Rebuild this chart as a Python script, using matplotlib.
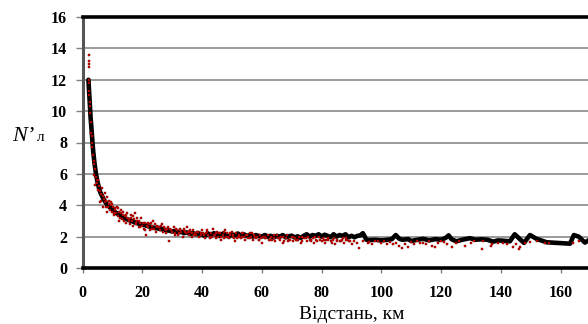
import matplotlib
matplotlib.use("Agg")
import matplotlib.pyplot as plt

# Black line (fitted / model curve)
line_x = [2.0, 2.1, 2.3, 2.5, 2.7, 3.0, 3.3, 3.6, 4.0, 4.5, 5.0, 5.5, 6.0, 6.5, 7.0, 7.5,
          8, 9, 10, 11, 12, 13, 14, 15, 16, 17, 18, 19, 20, 21, 22, 23, 24, 25, 26, 27,
          28, 29, 30, 31, 32, 33, 34, 35, 36, 37, 38, 39,
          40, 41, 42, 43, 44, 45, 46, 47, 48, 49, 50, 51, 52, 53, 54, 55, 56, 57, 58, 59,
          60, 61, 62, 63, 64, 65, 66, 67, 68, 69, 70, 71, 72, 73, 74, 75, 76, 77, 78, 79,
          80, 81, 82, 83, 84, 85, 86, 87, 88, 89, 90, 91, 92, 93, 93.8, 95, 96, 98, 100,
          102, 103.5, 104.8, 106, 107, 109, 110, 112, 114, 116, 118, 120, 121.5, 122.5,
          123.5, 125.1, 127, 129.6, 131.5, 133.5, 135.5, 137.4, 139, 140.7, 143, 144.6,
          147.7, 149.7, 152, 155.3, 159, 163.1, 164.4, 166, 168.1, 170, 175, 180]
line_y = [12.0, 11.6, 11.0, 10.3, 9.6, 8.9, 8.1, 7.4, 6.7, 6.0, 5.5, 5.1, 4.8, 4.6, 4.4, 4.25,
          4.1, 3.9, 3.72, 3.55, 3.42, 3.3, 3.18, 3.1, 3.02, 2.95, 2.87, 2.82, 2.76, 2.72,
          2.66, 2.62, 2.56, 2.53, 2.48, 2.47, 2.4, 2.38, 2.33, 2.36, 2.28, 2.3, 2.22, 2.27,
          2.18, 2.22, 2.15, 2.2,
          2.12, 2.05, 2.2, 2.1, 2.22, 2.08, 2.04, 2.2, 2.1, 2.0, 2.15, 2.08, 2.2, 2.04,
          2.15, 2.04, 2.1, 2.0, 2.1, 2.04, 2.0, 2.1, 2.0, 2.05, 1.95, 2.05, 2.0, 2.1, 1.95,
          2.02, 2.06, 1.95, 2.02, 1.92, 2.05, 2.15, 2.0, 2.1, 2.05, 2.15, 2.0, 2.12, 2.05,
          1.96, 2.15, 2.0, 2.1, 2.05, 2.15, 1.96, 2.05, 1.96, 2.05, 2.08, 2.22, 1.8, 1.78,
          1.8, 1.76, 1.8, 1.84, 2.1, 1.86, 1.8, 1.84, 1.72, 1.8, 1.86, 1.76, 1.84, 1.8,
          1.92, 2.08, 1.83, 1.7, 1.8, 1.9, 1.8, 1.83, 1.8, 1.68, 1.76, 1.74, 1.7, 2.15,
          1.6, 2.1, 1.85, 1.64, 1.6, 1.55, 2.1, 2.0, 1.62, 1.85, 1.8, 1.8]

# Red scattered observations
pts_x = [2.2, 2.2, 2.2, 2.2, 2.1, 2.2, 2.3, 2.3, 2.4, 2.4, 2.6, 2.8, 3.0, 3.1, 3.2, 3.2,
         3.5, 3.8, 3.7, 4.1, 4.0, 4.4, 4.7, 4.3, 5.0, 5.3, 5.6, 5.8, 6.2, 6.5, 6.3, 6.8,
         7.1, 7.4, 7.6, 7.0, 8.0, 8.3, 8.6, 8.9, 9.2, 9.5, 9.8, 10.2, 10.5, 10.8, 11.2,
         11.5, 11.8, 12.1, 12.5, 12.8, 13.2, 13.6, 14.0, 14.3, 14.7, 15.0, 15.4, 15.8,
         16.1, 16.5, 16.9, 17.3, 17.6, 18.0, 18.4, 18.8, 19.2, 19.6, 20.0, 20.5, 21.0,
         21.4, 21.8, 22.3, 22.7, 23.2, 23.6, 24.0, 24.5, 25.0, 25.5, 26.0, 26.5, 27.0,
         27.5, 28.0, 28.6, 29.0, 29.5, 30.0, 30.5, 31.0, 31.5, 32.0, 32.5, 33.0, 33.5,
         34.0, 34.5, 35.0, 35.5, 36.0, 36.5, 37.0, 37.5, 38.0, 38.5, 39.0, 39.5, 40.0,
         40.5, 41.0, 41.5, 42.0, 42.5, 43.0, 43.5, 44.0, 44.5, 45.0, 45.5, 46.0, 46.5,
         47.0, 47.5, 48.0, 48.5, 49.0, 49.5, 50.0, 50.5, 51.0, 51.5, 52.0, 52.5, 53.0,
         53.5, 54.0, 54.5, 55.0, 55.5, 56.0, 56.5, 57.0, 57.5, 58.0, 58.5, 59.0, 59.5,
         60.0, 60.5, 61.0, 62.0, 62.5, 63.0, 64.0, 64.5, 65.0, 66.0, 66.5, 67.0, 68.0,
         68.5, 69.0, 70.0, 70.5, 71.0, 72.0, 72.5, 73.0, 74.0, 75.0, 75.5, 76.0, 77.0,
         77.5, 78.0, 79.0, 80.0, 80.5, 81.0, 82.0, 83.0, 84.0, 84.5, 85.0, 86.0, 87.0,
         87.5, 88.0, 89.0, 90.0, 91.0, 92.5, 94.0, 96.0, 97.0, 99.0, 100.0, 101.0, 102.0,
         103.0, 105.0, 106.0, 107.0, 108.0, 109.0, 110.0, 111.0, 112.0, 113.0, 115.0,
         116.0, 118.0, 119.0, 121.0, 122.0, 123.5, 125.1, 126.0, 128.0, 130.0, 131.0,
         133.5, 134.0, 136.8, 137.0, 139.0, 140.7, 142.0, 144.0, 145.0, 146.0, 146.5,
         148.0, 149.8, 152.0, 154.7, 156.0, 164.0, 166.0,
         5.2, 6.0, 7.8, 9.0, 10.0, 11.0, 12.3, 13.0, 14.5, 15.6, 17.0, 18.2, 19.4, 20.8,
         22.0, 23.4, 24.8, 26.2, 27.8, 29.2, 30.8, 32.2, 33.8, 35.2, 36.8, 38.2, 39.8,
         41.2, 42.8, 44.2, 45.8, 47.2, 48.8, 50.2, 51.8, 53.2, 54.8, 56.2, 57.8, 59.2,
         61.5, 63.5, 65.5, 67.5, 69.5, 71.5, 73.5, 76.5, 78.5, 81.5, 83.5, 86.5, 88.5,
         8.1, 9.4, 10.6, 11.9, 13.4, 14.8, 16.3, 17.8, 19.0, 20.3, 21.6, 23.0, 24.3,
         25.7, 27.2, 28.3, 29.8, 31.2, 32.7, 34.3, 35.8, 37.2, 38.7, 40.3, 41.8, 43.3,
         44.7, 46.2, 47.8, 49.3, 50.7, 52.3, 53.7, 55.2, 56.8, 58.3, 59.7, 61.2, 62.7,
         64.2, 65.7, 67.2, 68.8, 70.3, 71.8, 73.3, 74.8, 76.3, 77.8, 79.3, 80.8, 82.3,
         83.8, 85.3, 86.8, 88.3, 89.5, 92.0, 95.5, 98.0, 104.0, 114.0, 117.0, 120.0]
pts_y = [13.6, 13.2, 13.0, 12.8, 12.0, 11.8, 11.3, 11.0, 10.6, 10.3, 9.9, 9.3, 8.6, 8.4,
         8.0, 7.7, 7.2, 6.8, 6.6, 6.3, 5.9, 5.8, 5.6, 5.3, 5.4, 5.0, 5.2, 4.9, 4.7, 5.1,
         4.3, 4.6, 4.4, 4.8, 4.2, 3.9, 4.3, 4.5, 3.9, 4.1, 3.7, 4.0, 3.6, 3.9, 3.4, 3.7,
         3.5, 3.9, 3.3, 3.6, 3.2, 3.5, 3.1, 3.4, 3.0, 3.3, 2.9, 3.5, 3.1, 2.8, 3.2, 3.0,
         2.7, 3.1, 3.5, 2.8, 3.0, 2.6, 2.9, 3.2, 2.7, 2.5, 2.9, 2.1, 2.6, 2.8, 2.4, 2.7,
         3.0, 2.5, 2.3, 2.7, 2.6, 2.4, 2.8, 2.3, 2.5, 2.2, 2.6, 1.7, 2.4, 2.3, 2.6, 2.2,
         2.4, 2.1, 2.5, 2.3, 2.0, 2.4, 2.2, 2.6, 2.1, 2.3, 2.0, 2.4, 2.2, 2.1, 2.3, 2.0,
         2.2, 2.4, 2.1, 1.9, 2.3, 2.1, 2.0, 2.2, 2.5, 2.1, 1.9, 2.3, 2.0, 2.2, 1.8, 2.1,
         2.3, 2.0, 2.2, 1.9, 2.1, 2.3, 2.0, 1.7, 2.2, 2.0, 2.1, 1.9, 2.2, 2.0, 1.8, 2.1,
         1.9, 2.2, 2.0, 1.8, 2.1, 1.9, 2.0, 1.8, 2.1, 1.6, 2.0, 1.9, 2.1, 1.8, 2.0, 1.9,
         1.7, 2.1, 1.8, 2.0, 1.6, 1.9, 2.1, 1.8, 2.0, 1.7, 1.9, 1.8, 2.0, 1.6, 1.9, 1.7,
         2.0, 1.8, 1.9, 1.6, 1.8, 2.0, 1.7, 1.9, 1.6, 1.8, 1.7, 1.9, 1.5, 1.8, 1.7, 1.9,
         1.6, 1.8, 1.7, 1.5, 1.75, 1.3, 1.7, 1.65, 1.55, 1.7, 1.6, 1.75, 1.5, 1.65, 1.6,
         1.4, 1.3, 1.55, 1.35, 1.65, 1.5, 1.7, 1.6, 1.55, 1.7, 1.35, 1.6, 1.65, 1.5, 1.36,
         1.6, 1.75, 1.4, 1.6, 1.7, 1.2, 1.75, 1.4, 1.55, 1.62, 1.6, 1.55, 1.35, 1.5, 1.2,
         1.35, 1.6, 1.66, 1.7, 1.6, 1.6, 1.6, 1.75,
         5.6, 4.2, 3.9, 4.3, 4.1, 3.8, 3.0, 3.7, 3.4, 3.0, 3.3, 3.2, 2.6, 2.4, 2.9, 2.5,
         2.6, 2.7, 2.4, 2.5, 2.1, 2.2, 2.5, 2.3, 2.2, 2.3, 2.1, 2.2, 1.9, 2.1, 2.2, 1.9,
         2.0, 2.1, 1.9, 2.0, 2.1, 1.9, 2.0, 1.8, 1.9, 1.8, 1.9, 1.7, 1.8, 1.8, 1.7, 1.8,
         1.7, 1.8, 1.6, 1.7, 1.8,
         3.6, 4.2, 3.5, 3.8, 3.6, 3.2, 3.4, 2.9, 3.0, 2.9, 2.7, 2.9, 2.8, 2.6, 2.6, 2.5,
         2.3, 2.5, 2.4, 2.3, 2.4, 2.1, 2.3, 2.2, 2.4, 2.0, 2.2, 2.0, 2.4, 2.2, 1.9, 2.0,
         2.2, 2.1, 2.2, 2.0, 1.9, 2.0, 1.8, 2.1, 1.9, 2.0, 1.7, 2.0, 1.8, 2.0, 1.9, 1.7,
         2.0, 1.8, 1.8, 1.9, 1.8, 1.7, 1.8, 1.9, 1.7, 1.6, 1.6, 1.7, 1.5, 1.6, 1.4, 1.7]

x_ticks = [0, 20, 40, 60, 80, 100, 120, 140, 160]
y_ticks = [0, 2, 4, 6, 8, 10, 12, 14, 16]
x_label = "Відстань, км"

serif = ["Liberation Serif", "DejaVu Serif"]

fig = plt.figure(figsize=(5.88, 3.24), dpi=100)
ax = fig.add_axes([82.5 / 588, 56 / 324, 538 / 588, 251 / 324])
ax.set_xlim(0, 180)
ax.set_ylim(0, 16)

for yv in y_ticks[1:-1]:
    ax.axhline(yv, color="#9a9a9a", lw=1.4, zorder=1)

ax.plot(line_x, line_y, color="black", lw=3.3, solid_joinstyle="round",
        solid_capstyle="round", zorder=3)
ax.scatter(pts_x, pts_y, s=4.5, marker="s", color="#e00000", edgecolors="#700000",
           linewidths=0.3, zorder=4)

ax.set_xticks(x_ticks)
ax.set_yticks(y_ticks)
ax.set_xticklabels([str(v) for v in x_ticks], fontfamily=serif, fontweight="bold",
                   fontsize=11.5)
ax.set_yticklabels([str(v) for v in y_ticks], fontfamily=serif, fontweight="bold",
                   fontsize=11.5)
ax.tick_params(axis="both", direction="out", width=1, color="#808080")
ax.tick_params(axis="x", length=3.5, pad=9)
ax.tick_params(axis="y", length=5, pad=6)

ax.spines["left"].set_color("#555555")
ax.spines["left"].set_linewidth(2.2)
ax.spines["top"].set_color("black")
ax.spines["top"].set_linewidth(2.6)
ax.spines["bottom"].set_color("black")
ax.spines["bottom"].set_linewidth(2.6)
ax.spines["right"].set_visible(False)

ax.set_xlabel(x_label, fontfamily=serif, fontsize=14, labelpad=3)

fig.text(12 / 588, 1 - 141 / 324, "N’", fontfamily=serif, fontstyle="italic",
         fontsize=16, va="baseline", ha="left")
fig.text(37 / 588, 1 - 141 / 324, "л", fontfamily=serif, fontsize=11,
         va="baseline", ha="left")

fig.savefig("out.png", dpi=100)
